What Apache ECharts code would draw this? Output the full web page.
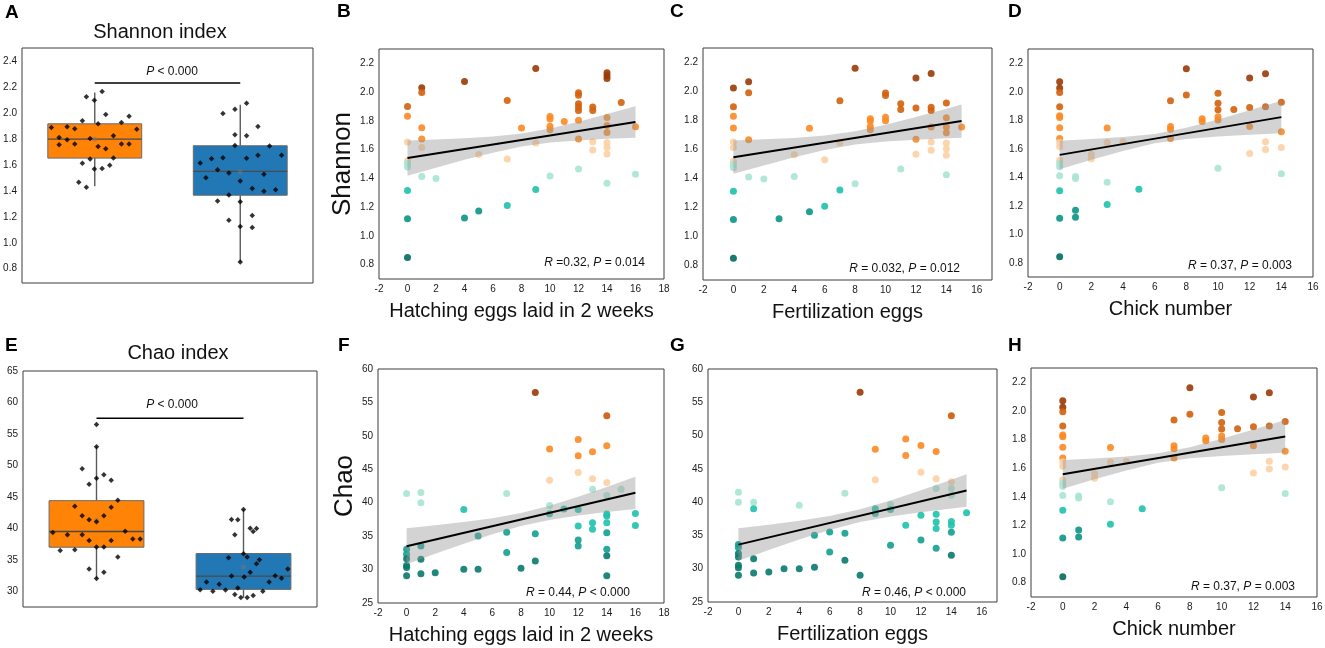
<!DOCTYPE html>
<html><head><meta charset="utf-8">
<script src="https://cdn.jsdelivr.net/npm/echarts@6/dist/echarts.min.js"></script>
<style>html,body{margin:0;padding:0;background:#fff}#c{width:1325px;height:648px}</style>
</head><body><div id="c"></div><script>
// ---------------- DATA ----------------
// Panel A (Shannon index boxplots): [min, Q1, median, Q3, max]
const shBoxCenters = [1, 3];
const shBoxStats = [[1.435, 1.652, 1.798, 1.916, 2.157], [0.851, 1.366, 1.550, 1.747, 2.062]];
const shBoxMeans = [1.798, 1.545];
const shHiX = [0.404,0.510,0.510,0.620,0.620,0.725,0.725,0.830,0.830,0.885,0.936,0.936,0.995,0.995,1.046,1.046,1.101,1.101,1.151,1.151,1.206,1.257,1.257,1.367,1.367,1.472,1.472,1.577,0.780,0.885];
const shHiY = [1.888,1.811,1.755,1.893,1.793,1.878,1.760,1.939,1.612,2.124,1.803,1.645,2.098,1.568,1.916,1.742,2.164,1.571,1.988,1.724,1.596,1.824,1.652,1.926,1.760,1.975,1.760,1.875,1.466,1.427];
const shLoX = [2.450,2.528,2.606,2.688,2.688,2.762,2.762,2.844,2.844,2.844,2.927,2.927,2.927,3.000,3.000,3.000,3.000,3.087,3.087,3.087,3.165,3.165,3.165,3.243,3.243,3.326,3.326,3.403,3.486,3.568];
const shLoY = [1.614,1.501,1.647,1.563,1.322,1.655,1.996,1.537,1.368,1.174,1.832,1.750,2.029,1.476,1.315,1.125,0.851,2.075,1.824,1.650,1.417,1.210,1.117,1.896,1.673,1.527,1.396,1.745,1.409,1.673];
const shSig = [[1, 2.23], [3, 2.23]];

// Panel E (Chao index boxplots)
const chBoxCenters = [1, 3];
const chBoxStats = [[32.0, 37.0, 39.5, 44.4, 53.0], [29.0, 30.3, 32.4, 36.0, 43.0]];
const chBoxMeans = [41.3, 33.85];
const chHiX = [0.406,0.506,0.605,0.705,0.705,0.805,0.805,0.805,0.900,0.900,0.900,0.900,1.000,1.000,1.000,1.000,1.000,1.000,1.100,1.100,1.100,1.100,1.200,1.200,1.200,1.290,1.290,1.390,1.494,1.594];
const chHiY = [39.34,36.49,38.97,43.51,36.60,49.48,41.98,38.97,47.00,41.35,38.08,33.54,56.50,52.96,47.95,41.03,37.02,32.01,48.53,41.98,37.02,33.01,47.63,43.36,38.08,44.46,35.44,39.55,38.29,38.29];
const chLoX = [2.410,2.497,2.583,2.669,2.755,2.796,2.837,2.837,2.882,2.882,2.923,2.923,2.964,3.000,3.000,3.009,3.050,3.050,3.091,3.091,3.132,3.132,3.177,3.177,3.218,3.263,3.349,3.431,3.517,3.603];
const chLoY = [30.26,31.48,30.00,31.11,30.21,35.33,32.43,41.40,29.47,38.97,41.35,30.53,29.00,42.99,35.97,32.27,29.00,35.44,33.01,40.03,39.50,29.31,34.38,39.98,35.02,30.00,31.48,32.48,32.06,33.54];
const chSig = [[1, 57.5], [3, 57.5]];

// Panel B: hatching eggs vs Shannon
const bX = [0,0,0,0,0,0,0,0,0, 1,1,1,1,1,1, 2, 4,4, 5,5, 7,7,7, 8, 9,9,9, 10,10,10,10,10, 11, 12,12,12,12,12,12,12,12, 13,13,13,13, 14,14,14,14,14,14,14,14,14,14, 15, 16,16];
const bY = [1.900,1.832,1.653,1.522,1.506,1.480,1.315,1.119,0.849, 2.030,1.997,1.753,1.674,1.615,1.413, 1.399, 2.074,1.124, 1.566,1.173, 1.941,1.534,1.212, 1.750, 2.165,1.646,1.322, 1.830,1.813,1.762,1.739,1.417, 1.795, 1.995,1.979,1.920,1.897,1.872,1.804,1.674,1.466, 1.897,1.872,1.655,1.597, 2.135,2.114,2.095,1.823,1.767,1.720,1.650,1.615,1.569,1.366, 1.927, 1.760,1.429];
const bBandX = [0,2,4,6,8,10,12,14,16];
const bBandLo = [1.419,1.474,1.529,1.579,1.621,1.649,1.664,1.675,1.682];
const bBandHi = [1.663,1.670,1.679,1.691,1.712,1.747,1.794,1.847,1.902];
const bFitX = [0, 16], bFitY = [1.541, 1.792];

// Panel C: fertilization eggs vs Shannon
const cX = [0,0,0,0,0,0,0,0,0,0,0,0, 1,1,1,1, 2, 3, 4,4, 5,5, 6,6, 7,7,7, 8,8, 9,9,9,9, 10,10,10,10, 11,11,11, 12,12,12,12, 13,13,13,13,13,13, 14,14,14,14,14,14,14,14, 15];
const cY = [2.024,1.894,1.830,1.748,1.652,1.613,1.519,1.499,1.474,1.312,1.118,0.850, 2.068,1.992,1.668,1.410, 1.396, 1.122, 1.563,1.414, 1.746,1.170, 1.529,1.209, 1.937,1.645,1.321, 2.161,1.364, 1.812,1.796,1.759,1.736, 1.990,1.972,1.823,1.798, 1.915,1.876,1.465, 2.093,1.887,1.670,1.567, 2.125,1.892,1.869,1.755,1.652,1.595, 1.921,1.819,1.755,1.716,1.645,1.606,1.561,1.426, 1.755];
const cBandX = [0,2,4,6,8,10,12,14,15];
const cBandLo = [1.432,1.490,1.546,1.597,1.634,1.656,1.668,1.677,1.681];
const cBandHi = [1.662,1.670,1.680,1.697,1.726,1.770,1.824,1.881,1.911];
const cFitX = [0, 15], cFitY = [1.547, 1.796];

// Panel D (and H, identical in the reference): chick number vs Shannon
const dX = [0,0,0,0,0,0,0,0,0,0,0,0,0,0,0,0,0, 1,1,1,1, 2,2, 3,3,3,3, 4, 5, 7,7,7,7, 8,8, 9,9, 10,10,10,10,10,10, 11, 12,12,12,12, 13,13,13,13, 14,14,14,14];
const dY = [2.071,2.026,1.994,1.895,1.832,1.820,1.747,1.672,1.644,1.614,1.520,1.496,1.473,1.410,1.306,1.112,0.842, 1.405,1.391,1.168,1.119, 1.562,1.529, 1.745,1.644,1.365,1.208, 1.649, 1.316, 1.937,1.757,1.736,1.672, 2.162,1.977, 1.811,1.792, 1.989,1.919,1.874,1.825,1.801,1.464, 1.876, 2.097,1.890,1.757,1.567, 2.127,1.895,1.649,1.595, 1.926,1.719,1.609,1.424];
const dBandX = [0,2,4,6,8,10,12,14];
const dBandLo = [1.457,1.522,1.584,1.638,1.669,1.686,1.698,1.708];
const dBandHi = [1.657,1.668,1.682,1.704,1.747,1.806,1.870,1.936];
const dFitX = [0, 14], dFitY = [1.557, 1.822];

// Panel F: hatching eggs vs Chao
const fX = [0,0,0,0,0,0,0, 1,1,1,1,1, 2, 4,4, 5,5, 7,7,7, 8, 9,9,9, 10,10,10,10, 11, 12,12,12,12,12,12,12, 13,13,13,13,13, 14,14,14,14,14,14,14,14,14,14,14, 15, 16,16];
const fY = [41.38,33.04,32.30,31.60,30.60,30.30,29.07, 41.53,39.99,33.54,31.55,29.36, 29.51, 39.00,30.06, 35.03,30.06, 41.38,35.57,32.54, 30.21, 56.47,35.37,31.30, 48.03,43.37,39.59,38.35, 39.05, 49.47,47.04,44.51,39.00,36.51,34.43,33.54, 47.64,43.57,42.03,37.01,36.02, 53.00,48.53,43.02,41.08,38.30,38.00,37.01,35.52,33.04,32.05,29.07, 42.03, 38.40,36.61];
const fBandX = [0,2,4,6,8,10,12,14,16];
const fBandLo = [30.81,32.35,33.86,35.29,36.53,37.43,38.08,38.60,39.07];
const fBandHi = [36.17,36.63,37.12,37.69,38.45,39.53,40.88,42.36,43.89];
const fFitX = [0, 16], fFitY = [33.49, 41.48];

// Panel G: fertilization eggs vs Chao
const gX = [0,0,0,0,0,0,0,0,0, 1,1,1,1, 2, 3, 4,4, 5,5, 6,6, 7,7,7, 8,8, 9,9,9,9, 10,10,10, 11,11,11, 12,12,12,12, 13,13,13,13,13,13,13, 14,14,14,14,14,14,14,14, 15];
const gY = [41.49,39.99,33.62,33.17,32.27,31.77,30.52,30.16,29.00, 39.99,38.99,31.51,29.36, 29.51, 30.01, 39.54,30.01, 35.03,30.21, 35.53,32.52, 41.34,35.33,31.26, 56.49,29.00, 47.96,43.35,38.99,38.29, 39.64,38.89,33.52, 49.47,47.01,36.53, 48.52,44.50,38.04,34.32, 47.61,43.50,42.05,38.19,37.03,36.03,33.07, 52.98,43.05,42.05,41.04,37.08,36.53,35.48,32.02, 38.39];
const gBandX = [0,2,4,6,8,10,12,14,15];
const gBandLo = [31.18,32.80,34.37,35.82,37.00,37.83,38.47,39.04,39.31];
const gBandHi = [36.06,36.60,37.20,37.92,38.92,40.25,41.77,43.38,44.19];
const gFitX = [0, 15], gFitY = [33.62, 41.75];

// Tick labels
const shBoxTicks = [0.8,1.0,1.2,1.4,1.6,1.8,2.0,2.2,2.4];
const chBoxTicks = [30,35,40,45,50,55,60,65];
const shTicks = [0.8,1.0,1.2,1.4,1.6,1.8,2.0,2.2];
const chTicks = [25,30,35,40,45,50,55,60];
const xTicks18 = [-2,0,2,4,6,8,10,12,14,16,18];
const xTicks16 = [-2,0,2,4,6,8,10,12,14,16];

// Texts
const statsText = {
  B: ['R', ' =0.32, ', 'P', ' = 0.014'],
  C: ['R', ' = 0.032, ', 'P', ' = 0.012'],
  D: ['R', ' = 0.37, ', 'P', ' = 0.003'],
  F: ['R', ' = 0.44, ', 'P', ' < 0.000'],
  G: ['R', ' = 0.46, ', 'P', ' < 0.000'],
  H: ['R', ' = 0.37, ', 'P', ' = 0.003']
};

// ---------------- CHART ----------------
const FONT = "'Liberation Sans', Arial, sans-serif";
const chart = echarts.init(document.getElementById('c'));
const grids = [], xAxes = [], yAxes = [], series = [], graphics = [];

function addGrid(l, t, w, h) {
  grids.push({left: l, top: t, width: w, height: h, show: true, borderColor: '#3c3c3c', borderWidth: 1,
    backgroundColor: '#fff', containLabel: false, outerBoundsMode: 'none'});
  return grids.length - 1;
}
function yAx(gi, min, max, ticks, dec, name, gap) {
  const a = {type: 'value', gridIndex: gi, min: min, max: max,
    axisLine: {show: false}, axisTick: {show: false}, splitLine: {show: false},
    axisLabel: {customValues: ticks, formatter: v => dec ? Number(v).toFixed(1) : String(v),
      fontSize: 10, color: '#1a1a1a', fontFamily: FONT, margin: 5}};
  if (name) Object.assign(a, {name: name, nameLocation: 'middle', nameGap: gap,
    nameTextStyle: {fontSize: 26, color: '#111', fontFamily: FONT}});
  return a;
}
function xAx(gi, min, max, ticks, name) {
  const a = {type: 'value', gridIndex: gi, min: min, max: max,
    axisLine: {show: false}, axisTick: {show: false}, splitLine: {show: false},
    axisLabel: {customValues: ticks, fontSize: 10, color: '#1a1a1a', fontFamily: FONT, margin: 5}};
  if (name) Object.assign(a, {name: name, nameLocation: 'middle', nameGap: 22,
    nameTextStyle: {fontSize: 20, color: '#111', fontFamily: FONT, verticalAlign: 'top'}});
  return a;
}

function shColor(v) {
  if (v >= 2.01) return '#9a3b07';
  if (v >= 1.86) return '#d4600c';
  if (v >= 1.66) return '#fc8a24';
  if (v >= 1.51) return '#fdd0a3';
  if (v >= 1.35) return '#a8e4d2';
  if (v >= 1.19) return '#1fc1ad';
  if (v >= 0.95) return '#0b9586';
  return '#006b5e';
}
function chColor(v) {
  if (v >= 55) return '#9a3b07';
  if (v >= 51) return '#cc590a';
  if (v >= 45.5) return '#fc8a24';
  if (v >= 42.5) return '#fdd0a3';
  if (v >= 39.3) return '#a8e4d2';
  if (v >= 36) return '#1fc1ad';
  if (v >= 32.3) return '#12a090';
  return '#097a6c';
}

const boxColors = ['#ff8306', '#2278b5'];
function boxPanel(gi, centers, stats, means, hiX, hiY, loX, loY, sig) {
  const xi = xAxes.length, yi = yAxes.length - 1;
  xAxes.push({type: 'value', gridIndex: gi, min: 0, max: 4, show: false});
  series.push({
    type: 'custom', xAxisIndex: xi, yAxisIndex: yi, z: 2, silent: true,
    data: centers.map((c, i) => [c].concat(stats[i])),
    renderItem: function (params, api) {
      const xc = api.value(0), mn = api.value(1), q1 = api.value(2), md = api.value(3), q3 = api.value(4), mx = api.value(5);
      const hw = 0.645;
      const tl = api.coord([xc - hw, q3]), br = api.coord([xc + hw, q1]);
      const top = api.coord([xc, mx]), b3 = api.coord([xc, q3]), b1 = api.coord([xc, q1]), bot = api.coord([xc, mn]);
      const ml = api.coord([xc - hw, md]), mr = api.coord([xc + hw, md]);
      const ws = {stroke: '#5a5a5a', lineWidth: 1.4};
      return {type: 'group', children: [
        {type: 'line', shape: {x1: top[0], y1: top[1], x2: b3[0], y2: b3[1]}, style: ws},
        {type: 'line', shape: {x1: b1[0], y1: b1[1], x2: bot[0], y2: bot[1]}, style: ws},
        {type: 'rect', shape: {x: tl[0], y: tl[1], width: br[0] - tl[0], height: br[1] - tl[1]},
          style: {fill: boxColors[params.dataIndex], stroke: '#6a6a6a', lineWidth: 1}},
        {type: 'line', shape: {x1: ml[0], y1: ml[1], x2: mr[0], y2: mr[1]}, style: {stroke: '#4a4a4a', lineWidth: 1.4}}
      ]};
    }
  });
  series.push({type: 'scatter', xAxisIndex: xi, yAxisIndex: yi, z: 3, silent: true, symbol: 'circle', symbolSize: 5,
    itemStyle: {color: 'rgba(120,120,120,0.6)'}, data: centers.map((c, i) => [c, means[i]])});
  series.push({type: 'scatter', xAxisIndex: xi, yAxisIndex: yi, z: 4, silent: true, symbol: 'diamond', symbolSize: 5.5,
    itemStyle: {color: '#000'}, data: hiX.map((x, i) => [x, hiY[i]]).concat(loX.map((x, i) => [x, loY[i]]))});
  series.push({type: 'line', xAxisIndex: xi, yAxisIndex: yi, z: 4, silent: true, symbol: 'none',
    lineStyle: {color: '#000', width: 1.5}, data: sig});
}

function scatterPanel(gi, xmin, xmax, xTicks, xname, xs, ys, colorFn, bx, blo, bhi, fx, fy) {
  const xi = xAxes.length, yi = yAxes.length - 1;
  xAxes.push(xAx(gi, xmin, xmax, xTicks, xname));
  series.push({type: 'scatter', xAxisIndex: xi, yAxisIndex: yi, z: 2, silent: true, symbolSize: 7,
    itemStyle: {color: p => colorFn(p.value[1]), opacity: 0.9},
    data: xs.map((x, i) => [x, ys[i]])});
  series.push({type: 'custom', xAxisIndex: xi, yAxisIndex: yi, z: 3, silent: true,
    data: [[bx[0], blo[0]]],
    renderItem: function (params, api) {
      const pts = [];
      for (let i = 0; i < bx.length; i++) pts.push(api.coord([bx[i], bhi[i]]));
      for (let i = bx.length - 1; i >= 0; i--) pts.push(api.coord([bx[i], blo[i]]));
      return {type: 'polygon', shape: {points: pts, smooth: 0}, style: {fill: 'rgba(150,150,150,0.42)'}};
    }});
  series.push({type: 'line', xAxisIndex: xi, yAxisIndex: yi, z: 4, silent: true, symbol: 'none',
    lineStyle: {color: '#000', width: 2}, data: fx.map((x, i) => [x, fy[i]])});
}

// Top row
let g;
g = addGrid(22, 48, 291, 235); yAxes.push(yAx(g, 0.69, 2.5, shBoxTicks, true));
boxPanel(g, shBoxCenters, shBoxStats, shBoxMeans, shHiX, shHiY, shLoX, shLoY, shSig);
g = addGrid(379, 49, 285, 230); yAxes.push(yAx(g, 0.7, 2.3, shTicks, true, 'Shannon', 22));
scatterPanel(g, -2, 18, xTicks18, 'Hatching eggs laid in 2 weeks', bX, bY, shColor, bBandX, bBandLo, bBandHi, bFitX, bFitY);
g = addGrid(703, 48, 289, 232); yAxes.push(yAx(g, 0.7, 2.3, shTicks, true));
scatterPanel(g, -2, 17, xTicks16, 'Fertilization eggs', cX, cY, shColor, cBandX, cBandLo, cBandHi, cFitX, cFitY);
g = addGrid(1028, 49, 285, 228); yAxes.push(yAx(g, 0.7, 2.3, shTicks, true));
scatterPanel(g, -2, 16, xTicks16, 'Chick number', dX, dY, shColor, dBandX, dBandLo, dBandHi, dFitX, dFitY);
// Bottom row
g = addGrid(23, 371, 294, 236); yAxes.push(yAx(g, 27.5, 65, chBoxTicks, false));
boxPanel(g, chBoxCenters, chBoxStats, chBoxMeans, chHiX, chHiY, chLoX, chLoY, chSig);
g = addGrid(378, 369, 286, 234); yAxes.push(yAx(g, 25, 60, chTicks, false, 'Chao', 20));
scatterPanel(g, -2, 18, xTicks18, 'Hatching eggs laid in 2 weeks', fX, fY, chColor, fBandX, fBandLo, fBandHi, fFitX, fFitY);
g = addGrid(708, 369, 289, 233); yAxes.push(yAx(g, 25, 60, chTicks, false));
scatterPanel(g, -2, 17, xTicks16, 'Fertilization eggs', gX, gY, chColor, gBandX, gBandLo, gBandHi, gFitX, gFitY);
g = addGrid(1031, 368, 286, 229); yAxes.push(yAx(g, 0.7, 2.3, shTicks, true));
scatterPanel(g, -2, 16, xTicks16, 'Chick number', dX, dY, shColor, dBandX, dBandLo, dBandHi, dFitX, dFitY);

// Text annotations
function txt(x, y, text, size, opts) {
  graphics.push({type: 'text', x: x, y: y, silent: true, z: 10, style: Object.assign({
    text: text, fontSize: size, fontFamily: FONT, fill: '#000', align: 'left', verticalAlign: 'middle'}, opts || {})});
}
const letters = [['A', 5, 13], ['B', 337, 12], ['C', 670, 12], ['D', 1008, 12], ['E', 5, 346], ['F', 338, 346], ['G', 670, 346], ['H', 1008, 346]];
letters.forEach(l => txt(l[1], l[2], l[0], 19, {fontWeight: 'bold'}));
txt(160, 32, 'Shannon index', 20, {align: 'center', fill: '#111'});
txt(178, 353, 'Chao index', 20, {align: 'center', fill: '#111'});
const rich = {i: {fontStyle: 'italic', fontSize: 12, fontFamily: FONT, fill: '#111'}, n: {fontSize: 12, fontFamily: FONT, fill: '#111'}};
txt(172, 72, '{i|P}{n| < 0.000}', 12, {align: 'center', rich: rich});
txt(172, 405, '{i|P}{n| < 0.000}', 12, {align: 'center', rich: rich});
const statPos = {B: [645, 263], C: [960, 269], D: [1292, 266], F: [630, 593], G: [966, 593], H: [1295, 587]};
Object.keys(statPos).forEach(k => {
  const s = statsText[k];
  txt(statPos[k][0], statPos[k][1], '{i|' + s[0] + '}{n|' + s[1] + '}{i|' + s[2] + '}{n|' + s[3] + '}', 12, {align: 'right', rich: rich});
});

chart.setOption({animation: false, backgroundColor: '#fff', grid: grids, xAxis: xAxes, yAxis: yAxes, series: series, graphic: graphics});
</script></body></html>
